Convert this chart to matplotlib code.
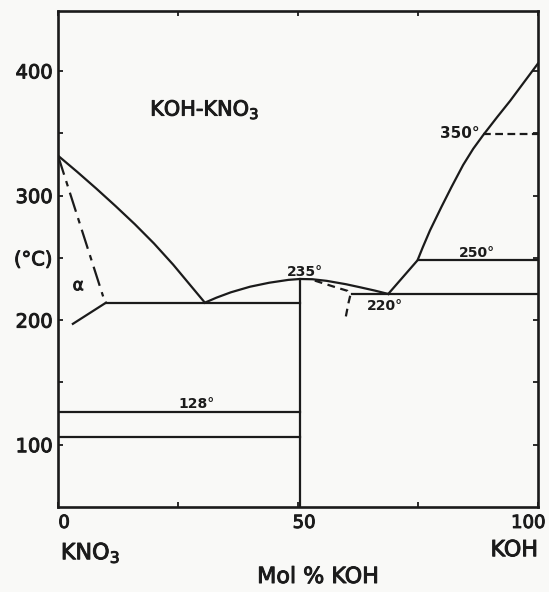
import matplotlib
matplotlib.use("Agg")
import matplotlib.pyplot as plt
import matplotlib.patheffects as pe
from matplotlib.transforms import ScaledTranslation

# ---- data (Mol % KOH, temperature in °C) ----
kno3_liq_x = [0, 4, 8, 12, 16, 20, 24, 28, 30.6]
kno3_liq_t = [332, 319, 305.5, 291.5, 277, 261.5, 244.5, 226, 214]

dome_x = [30.6, 33, 36, 40, 44, 48, 50.4, 53, 56, 60, 63, 66, 68.8]
dome_t = [214, 218, 222.3, 226.8, 230, 232.3, 233, 232.8, 231.5, 228.8, 226.3, 223.7, 221]

koh_liq_x = [68.8, 74.9, 76, 77.5, 79.9, 82, 84.4, 86.5, 88.6, 91.5, 94.2, 97, 100]
koh_liq_t = [221, 248, 258.5, 272, 291, 307, 324.5, 337.5, 348.6, 363, 376, 390.5, 406]

hook_x = [53.5, 57.4, 60.3, 60.9, 60.5, 59.9]
hook_t = [231.7, 226.9, 223.5, 220, 213.5, 201.5]

dashdot_x = [0, 9.4]
dashdot_t = [332, 219]

alpha_low_x = [3.1, 10]
alpha_low_t = [197, 214]

x_compound = 50.5
t_compound_top = 233

eut_left_x = [10, x_compound]
eut_left_t = 214
eut_right_x = [61.2, 100]
eut_right_t = 221
iso250_x = [74.9, 100]
iso250_t = 248
iso350_x = [88.6, 100]
iso350_t = 349
low_lines_x = [0, x_compound]
low_lines_t = [126.5, 106.4]

x_ticks = [0, 25, 50, 75, 100]
x_ticklabels = ["0", "", "50", "", "100"]
y_ticks = [100, 150, 200, 250, 300, 350, 400]
y_ticklabels = ["100", "", "200", "(°C)", "300", "", "400"]

annotations = [  # text, x, T
    ("235°", 51.5, 239),
    ("220°", 68.1, 211),
    ("250°", 87.2, 253.5),
    ("128°", 28.9, 132.5),
]

ink = "#1b1b1b"
bg = "#f9f9f7"
heavy = [pe.withStroke(linewidth=0.7, foreground=ink)]

fig = plt.figure(figsize=(5.49, 5.92), dpi=100, facecolor=bg)
ax = fig.add_axes([58 / 549, 85 / 592, 480 / 549, 496.5 / 592])
ax.set_facecolor(bg)
ax.set_xlim(0, 100)
ax.set_ylim(50, 448.5)

lw = 1.6
ax.plot(kno3_liq_x, kno3_liq_t, color=ink, lw=lw)
ax.plot(dome_x, dome_t, color=ink, lw=lw)
ax.plot(koh_liq_x, koh_liq_t, color=ink, lw=lw)
ax.plot(hook_x, hook_t, color=ink, lw=lw, linestyle=(0, (3.5, 2.5)))
ax.plot(dashdot_x, dashdot_t, color=ink, lw=lw, linestyle=(0, (9, 3, 2.5, 3)))
ax.plot(alpha_low_x, alpha_low_t, color=ink, lw=lw)
ax.plot([x_compound, x_compound], [50, t_compound_top], color=ink, lw=lw)
ax.plot(eut_left_x, [eut_left_t] * 2, color=ink, lw=lw)
ax.plot(eut_right_x, [eut_right_t] * 2, color=ink, lw=lw)
ax.plot(iso250_x, [iso250_t] * 2, color=ink, lw=lw)
ax.plot(iso350_x, [iso350_t] * 2, color=ink, lw=lw, linestyle=(0, (3.5, 2)))
for t in low_lines_t:
    ax.plot(low_lines_x, [t, t], color=ink, lw=lw)

for s in ax.spines.values():
    s.set_linewidth(1.9)
    s.set_color(ink)

ax.set_xticks(x_ticks, labels=x_ticklabels)
ax.set_yticks(y_ticks, labels=y_ticklabels)
ax.tick_params(axis="both", direction="in", length=3.5, width=1.3, color=ink,
               top=True, right=True, labelcolor=ink)
ax.tick_params(axis="x", labelsize=13, pad=5)
ax.tick_params(axis="y", labelsize=14, pad=4)

# nudge x tick labels as in the reference (pixel offsets)
shifts = {"0": 6, "50": 6, "100": -10}
for lab in ax.get_xticklabels():
    dx = shifts.get(lab.get_text(), 0)
    lab.set_transform(lab.get_transform() + ScaledTranslation(dx / 100, 0, fig.dpi_scale_trans))
    lab.set_path_effects(heavy)
for lab in ax.get_yticklabels():
    lab.set_path_effects(heavy)

ax.text(19.2, 369, "KOH-KNO$_3$", fontsize=15, color=ink, ha="left", va="center",
        path_effects=heavy)
ax.text(87.9, 350, "350°", fontsize=11, fontweight="bold", color=ink,
        ha="right", va="center")
for txt, x, t in annotations:
    ax.text(x, t, txt, fontsize=10, fontweight="bold", color=ink,
            ha="center", va="center")
ax.text(4.2, 228, "α", fontsize=12, color=ink, ha="center", va="center",
        path_effects=heavy)

tr = ax.get_xaxis_transform()
ax.text(0.6, -0.093, "KNO$_3$", transform=tr, fontsize=16, color=ink,
        ha="left", va="center", path_effects=heavy)
ax.text(100, -0.087, "KOH", transform=tr, fontsize=16, color=ink,
        ha="right", va="center", path_effects=heavy)
ax.text(54.2, -0.141, "Mol % KOH", transform=tr, fontsize=16, color=ink,
        ha="center", va="center", path_effects=heavy)

fig.savefig("out.png", dpi=100, facecolor=bg)
